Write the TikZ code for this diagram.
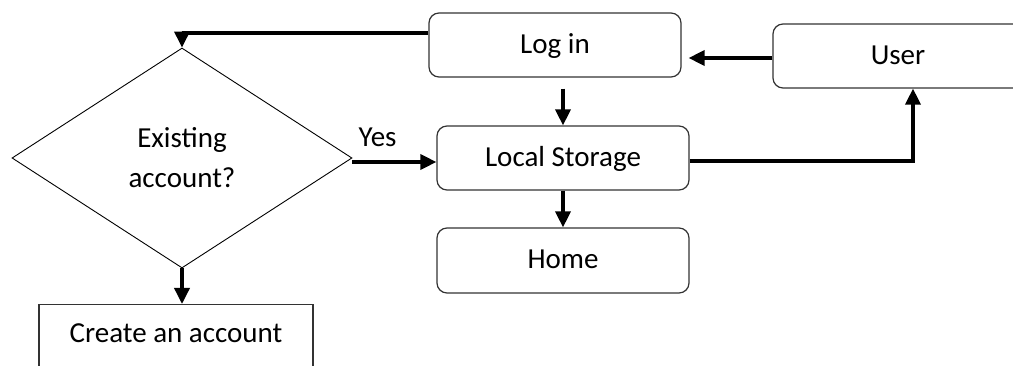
\documentclass[tikz,border=0pt]{standalone}
\usepackage{fontspec}
\setmainfont{Carlito}
\usetikzlibrary{shapes.geometric,arrows.meta}
\begin{document}
\begin{tikzpicture}[x=1pt,y=-1pt,
  txt/.style={font=\fontsize{29}{40}\selectfont},
  box/.style={txt, draw=black!80, line width=1.2pt, rounded corners=10pt, minimum width=252pt, minimum height=64pt, inner sep=0pt, text height=18.7pt, text depth=2pt},
  arr/.style={line width=3.5pt, -{Triangle[length=16pt,width=15pt]}},
]
\useasboundingbox (0,0) rectangle (1013,366);
\clip (0,0) rectangle (1013,366);
\node[box] (login) at (555,45) {Log in};
\node[box] (ls) at (563,158) {Local Storage};
\node[box, minimum height=65pt] (home) at (563,260.5) {Home};
\node[box, minimum width=250pt] (user) at (898,56) {User};
\node[txt, diamond, draw=black, line width=0.9pt, minimum width=340pt, minimum height=220pt, inner sep=0pt, align=center] (dia) at (182,158) {Existing\\account?};
\node[draw=black!80, line width=1.2pt, minimum width=274pt, minimum height=130pt, anchor=north, inner sep=0pt] (create) at (176,304) {};
\node[txt] (createtxt) at ([yshift=-29pt]create.north) {Create an account};

\draw[arr] ([yshift=12pt]login.west) -| (dia.north);
\draw[arr] ([yshift=-4pt]dia.east) -- node[txt, pos=0.3, yshift=25pt] (yes) {Yes} ([yshift=-4pt]ls.west);
\draw[arr] ([yshift=-11pt]ls.north |- login.south) -- (ls.north);
\draw[arr] (ls.south) -- (home.north);
\draw[arr] ([yshift=-2pt]user.west) -- ([xshift=7pt,yshift=-2pt]login.east |- user.west);
\draw[arr] ([yshift=-3pt]ls.east) -| ([xshift=15pt]user.south);
\draw[arr] (dia.south) -- (dia.south |- create.north);
\end{tikzpicture}
\end{document}
